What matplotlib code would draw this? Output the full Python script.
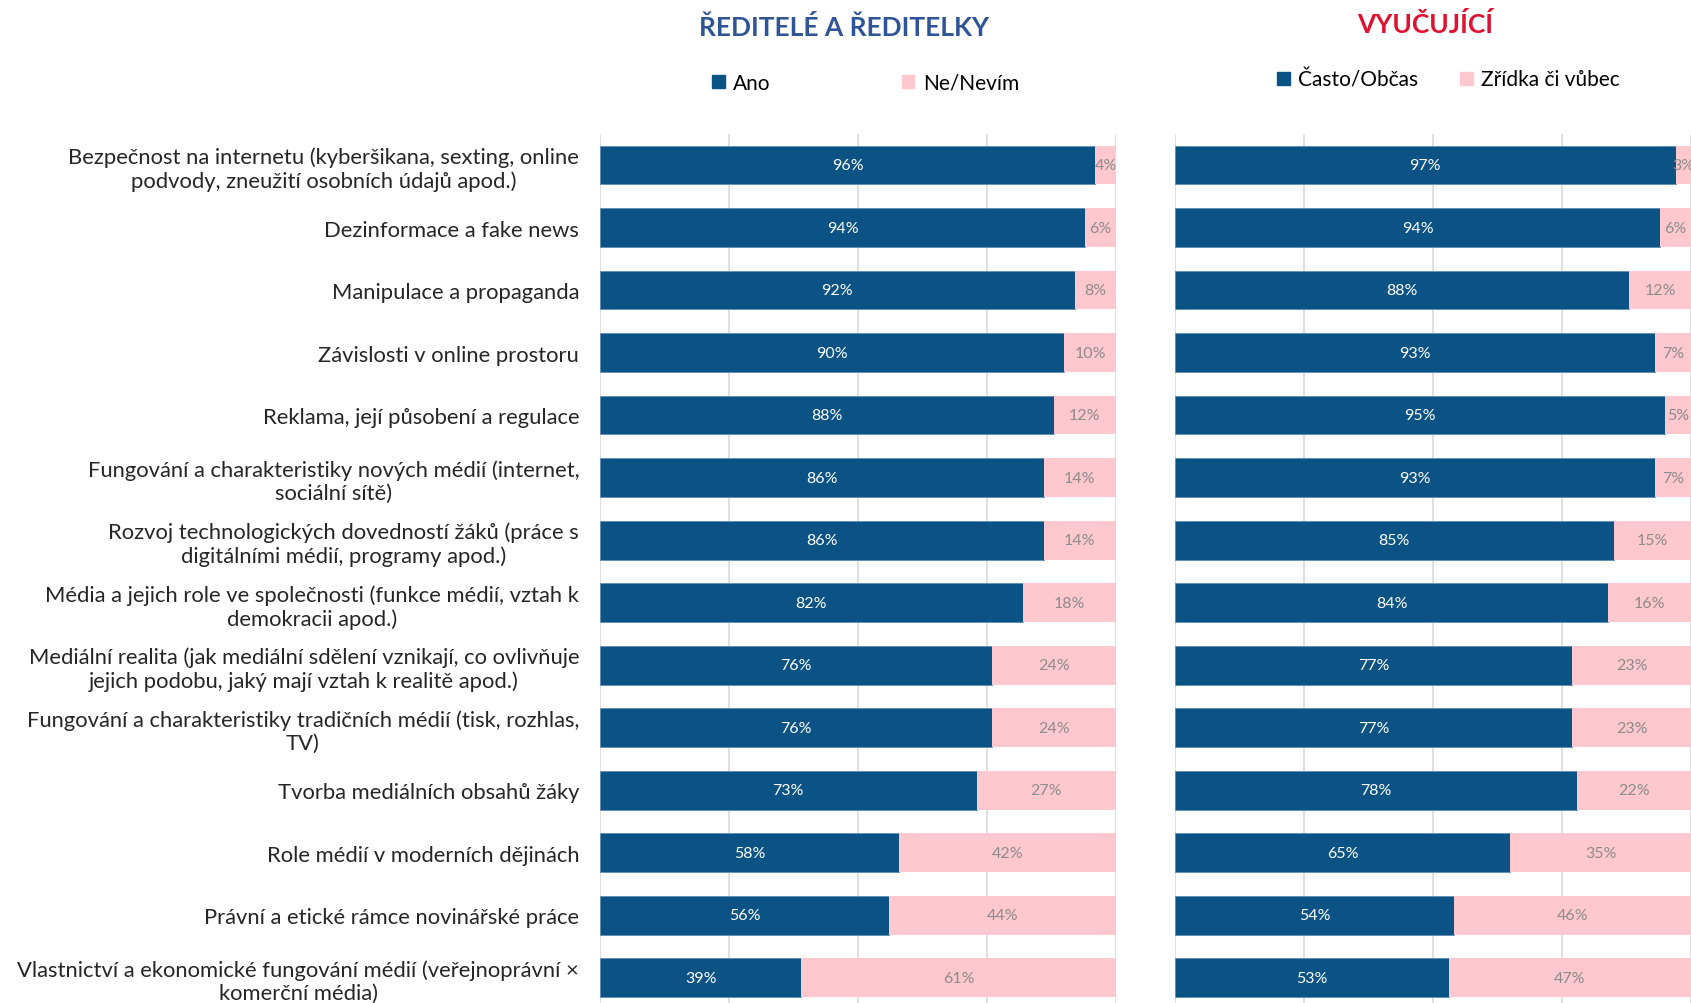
import matplotlib
matplotlib.use("Agg")
import matplotlib.pyplot as plt
from matplotlib.patches import Patch

plt.rcParams['font.family'] = ['Lato', 'DejaVu Sans']

categories = [
    "Bezpečnost na internetu (kyberšikana, sexting, online\npodvody, zneužití osobních údajů apod.)",
    "Dezinformace a fake news",
    "Manipulace a propaganda",
    "Závislosti v online prostoru",
    "Reklama, její působení a regulace",
    "Fungování a charakteristiky nových médií (internet,\nsociální sítě)",
    "Rozvoj technologických dovedností žáků (práce s\ndigitálními médií, programy apod.)",
    "Média a jejich role ve společnosti (funkce médií, vztah k\ndemokracii apod.)",
    "Mediální realita (jak mediální sdělení vznikají, co ovlivňuje\njejich podobu, jaký mají vztah k realitě apod.)",
    "Fungování a charakteristiky tradičních médií (tisk, rozhlas,\nTV)",
    "Tvorba mediálních obsahů žáky",
    "Role médií v moderních dějinách",
    "Právní a etické rámce novinářské práce",
    "Vlastnictví a ekonomické fungování médií (veřejnoprávní ×\nkomerční média)",
]
reditele_ano = [96, 94, 92, 90, 88, 86, 86, 82, 76, 76, 73, 58, 56, 39]
reditele_ne = [4, 6, 8, 10, 12, 14, 14, 18, 24, 24, 27, 42, 44, 61]
vyucujici_casto = [97, 94, 88, 93, 95, 93, 85, 84, 77, 77, 78, 65, 54, 53]
vyucujici_zridka = [3, 6, 12, 7, 5, 7, 15, 16, 23, 23, 22, 35, 46, 47]

BLUE = "#0B5285"
PINK = "#FFC7CE"

fig = plt.figure(figsize=(16.91, 10.04), dpi=100)
ax1 = fig.add_axes([0.3548, -0.006, 0.3051, 0.8718])
ax2 = fig.add_axes([0.6949, -0.006, 0.3051, 0.8718])

y = list(range(len(categories)))

def draw(ax, a, b, labels):
    ax.barh(y, a, height=0.62, color=BLUE, edgecolor="#5E8DB5", linewidth=0.6, zorder=3)
    ax.barh(y, b, left=a, height=0.62, color=PINK, zorder=3)
    for i in y:
        ax.text(a[i] / 2, i, f"{a[i]}%", ha="center", va="center",
                color="white", fontsize=11.5, zorder=4)
        ax.text(a[i] + b[i] / 2, i, f"{b[i]}%", ha="center", va="center",
                color="#8C8C8C", fontsize=11.5, zorder=4, clip_on=False)
    ax.set_xlim(0, 100)
    ax.set_ylim(len(categories) - 0.5, -0.5)
    ax.set_xticks([0, 25, 50, 75, 100])
    ax.xaxis.grid(True, color="#D9D9D9", linewidth=1.2, zorder=0)
    ax.tick_params(axis="x", length=0, labelbottom=False)
    for s in ax.spines.values():
        s.set_visible(False)
    if labels:
        ax.set_yticks(y)
        ax.set_yticklabels(categories, fontsize=15.8, color="#262626",
                           multialignment="center")
        ax.tick_params(axis="y", length=0, pad=15)
    else:
        ax.set_yticks([])

draw(ax1, reditele_ano, reditele_ne, True)
draw(ax2, vyucujici_casto, vyucujici_zridka, False)

fig.text(0.499, 0.973, "ŘEDITELÉ A ŘEDITELKY", ha="center", va="center",
         fontsize=19, fontweight="bold", color="#2F5597")
fig.text(0.843, 0.976, "VYUČUJÍCÍ", ha="center", va="center",
         fontsize=19, fontweight="bold", color="#E0102F")

ax1.legend(handles=[Patch(color=BLUE, label="Ano"), Patch(color=PINK, label="Ne/Nevím")],
           loc="center", bbox_to_anchor=(0.515, 1.058), ncol=2, frameon=False,
           fontsize=15, handlelength=0.6, handleheight=0.6, handletextpad=0.4,
           columnspacing=6.3)
ax2.legend(handles=[Patch(color=BLUE, label="Často/Občas"), Patch(color=PINK, label="Zřídka či vůbec")],
           loc="center", bbox_to_anchor=(0.53, 1.062), ncol=2, frameon=False,
           fontsize=15, handlelength=0.6, handleheight=0.6, handletextpad=0.4,
           columnspacing=2.0)

fig.savefig("out.png", dpi=100)
